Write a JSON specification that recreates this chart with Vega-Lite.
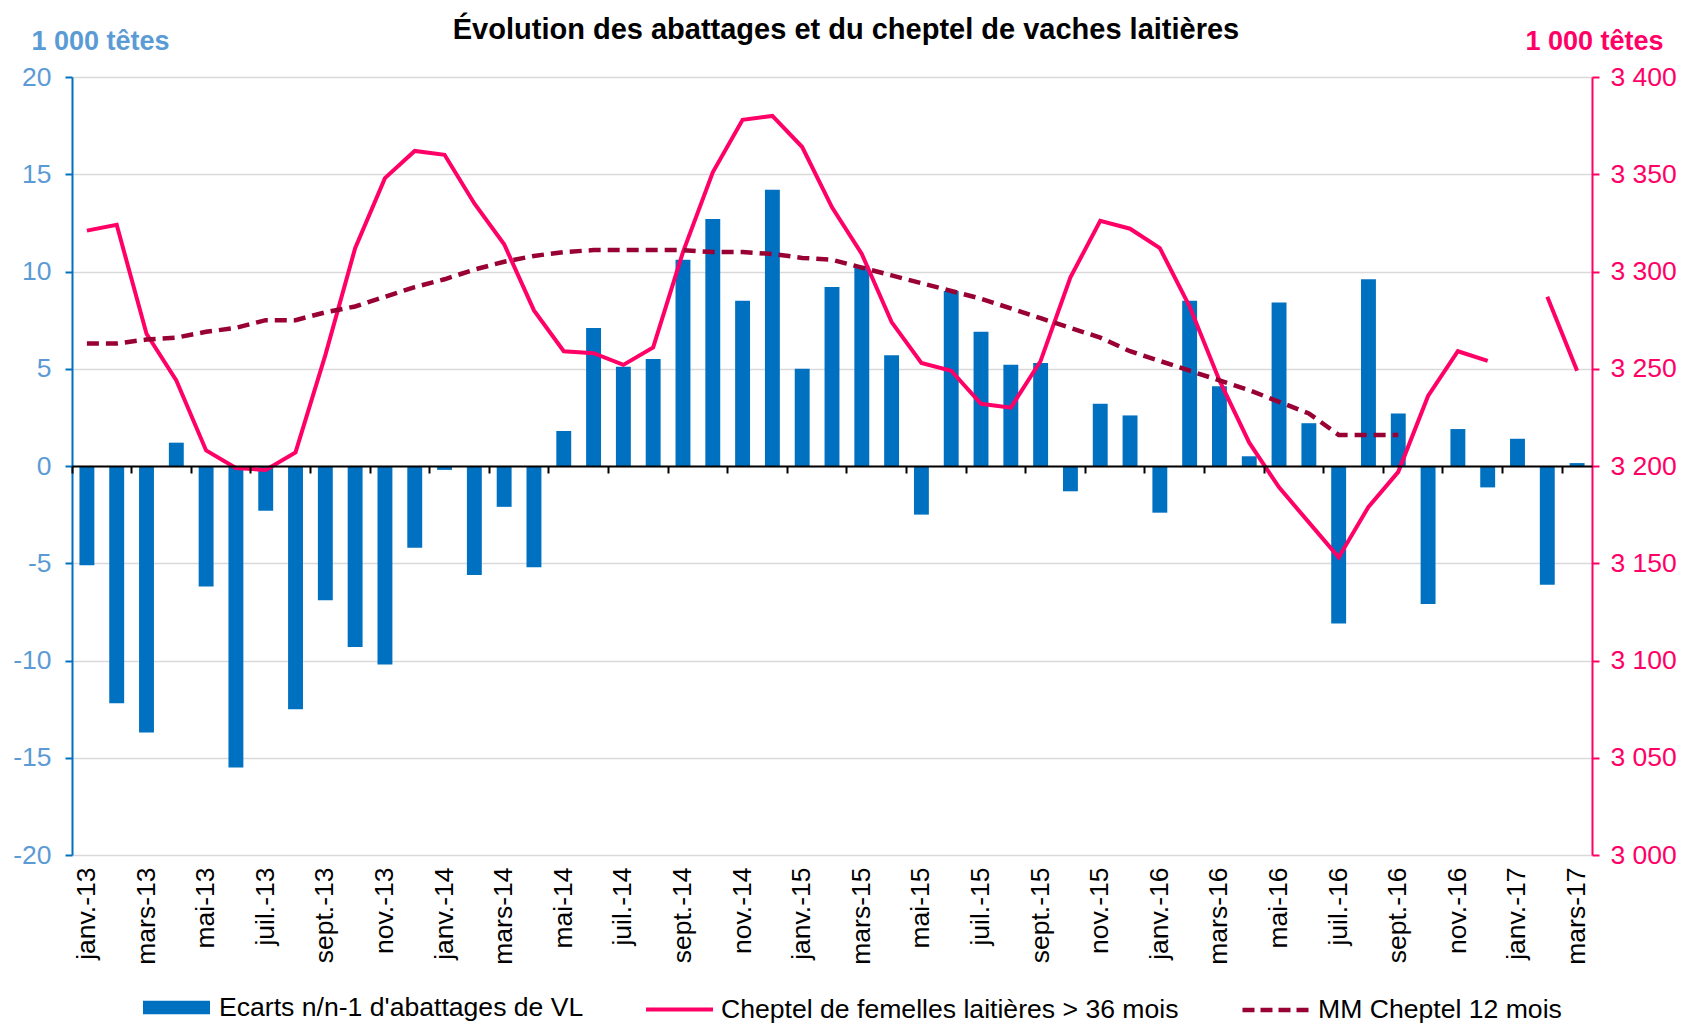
{
  "$schema": "https://vega.github.io/schema/vega-lite/v6.json",
  "autosize": {"type": "none"},
  "padding": {"left": 72, "top": 77, "right": 91, "bottom": 169},
  "width": 1520,
  "height": 778,
  "background": "white",
  "config": {
    "font": "Liberation Sans",
    "view": {"stroke": null},
    "axis": {"labelFont": "Liberation Sans", "titleFont": "Liberation Sans"},
    "legend": {"labelFont": "Liberation Sans", "labelLimit": 0}
  },
  "title": {
    "text": "Évolution des abattages et du cheptel de vaches laitières",
    "font": "Liberation Sans",
    "fontSize": 29,
    "fontWeight": "bold",
    "color": "#000000",
    "anchor": "middle",
    "frame": "group",
    "baseline": "alphabetic",
    "offset": -41,
    "dx": 14
  },
  "data": {
    "values": [
      {"m": "janv.-13", "ecart": -5.1, "cheptel": 3321, "mm": 3263},
      {"m": "févr.-13", "ecart": -12.2, "cheptel": 3324, "mm": 3263},
      {"m": "mars-13", "ecart": -13.7, "cheptel": 3268, "mm": 3265},
      {"m": "avr.-13", "ecart": 1.2, "cheptel": 3244, "mm": 3266},
      {"m": "mai-13", "ecart": -6.2, "cheptel": 3208, "mm": 3269},
      {"m": "juin-13", "ecart": -15.5, "cheptel": 3199, "mm": 3271},
      {"m": "juil.-13", "ecart": -2.3, "cheptel": 3198, "mm": 3275},
      {"m": "août-13", "ecart": -12.5, "cheptel": 3207, "mm": 3275},
      {"m": "sept.-13", "ecart": -6.9, "cheptel": 3257, "mm": 3279},
      {"m": "oct.-13", "ecart": -9.3, "cheptel": 3312, "mm": 3282},
      {"m": "nov.-13", "ecart": -10.2, "cheptel": 3348, "mm": 3287},
      {"m": "déc.-13", "ecart": -4.2, "cheptel": 3362, "mm": 3292},
      {"m": "janv.-14", "ecart": -0.2, "cheptel": 3360, "mm": 3296},
      {"m": "févr.-14", "ecart": -5.6, "cheptel": 3335, "mm": 3301},
      {"m": "mars-14", "ecart": -2.1, "cheptel": 3314, "mm": 3305},
      {"m": "avr.-14", "ecart": -5.2, "cheptel": 3280, "mm": 3308},
      {"m": "mai-14", "ecart": 1.8, "cheptel": 3259, "mm": 3310},
      {"m": "juin-14", "ecart": 7.1, "cheptel": 3258, "mm": 3311},
      {"m": "juil.-14", "ecart": 5.1, "cheptel": 3252, "mm": 3311},
      {"m": "août-14", "ecart": 5.5, "cheptel": 3261, "mm": 3311},
      {"m": "sept.-14", "ecart": 10.6, "cheptel": 3310, "mm": 3311},
      {"m": "oct.-14", "ecart": 12.7, "cheptel": 3351, "mm": 3310},
      {"m": "nov.-14", "ecart": 8.5, "cheptel": 3378, "mm": 3310},
      {"m": "déc.-14", "ecart": 14.2, "cheptel": 3380, "mm": 3309},
      {"m": "janv.-15", "ecart": 5.0, "cheptel": 3364, "mm": 3307},
      {"m": "févr.-15", "ecart": 9.2, "cheptel": 3333, "mm": 3306},
      {"m": "mars-15", "ecart": 10.3, "cheptel": 3309, "mm": 3302},
      {"m": "avr.-15", "ecart": 5.7, "cheptel": 3274, "mm": 3298},
      {"m": "mai-15", "ecart": -2.5, "cheptel": 3253, "mm": 3294},
      {"m": "juin-15", "ecart": 9.0, "cheptel": 3249, "mm": 3290},
      {"m": "juil.-15", "ecart": 6.9, "cheptel": 3232, "mm": 3286},
      {"m": "août-15", "ecart": 5.2, "cheptel": 3230, "mm": 3281},
      {"m": "sept.-15", "ecart": 5.3, "cheptel": 3254, "mm": 3276},
      {"m": "oct.-15", "ecart": -1.3, "cheptel": 3297, "mm": 3271},
      {"m": "nov.-15", "ecart": 3.2, "cheptel": 3326, "mm": 3266},
      {"m": "déc.-15", "ecart": 2.6, "cheptel": 3322, "mm": 3259},
      {"m": "janv.-16", "ecart": -2.4, "cheptel": 3312, "mm": 3254},
      {"m": "févr.-16", "ecart": 8.5, "cheptel": 3282, "mm": 3249},
      {"m": "mars-16", "ecart": 4.1, "cheptel": 3244, "mm": 3244},
      {"m": "avr.-16", "ecart": 0.5, "cheptel": 3212, "mm": 3239},
      {"m": "mai-16", "ecart": 8.4, "cheptel": 3189, "mm": 3233},
      {"m": "juin-16", "ecart": 2.2, "cheptel": 3171, "mm": 3227},
      {"m": "juil.-16", "ecart": -8.1, "cheptel": 3153, "mm": 3216},
      {"m": "août-16", "ecart": 9.6, "cheptel": 3179, "mm": 3216},
      {"m": "sept.-16", "ecart": 2.7, "cheptel": 3197, "mm": 3216},
      {"m": "oct.-16", "ecart": -7.1, "cheptel": 3236, "mm": null},
      {"m": "nov.-16", "ecart": 1.9, "cheptel": 3259, "mm": null},
      {"m": "déc.-16", "ecart": -1.1, "cheptel": 3254, "mm": null},
      {"m": "janv.-17", "ecart": 1.4, "cheptel": null, "mm": null},
      {"m": "févr.-17", "ecart": -6.1, "cheptel": 3287, "mm": null},
      {"m": "mars-17", "ecart": 0.15, "cheptel": 3249, "mm": null}
    ]
  },
  "layer": [
    {
      "mark": {"type": "bar", "width": {"band": 0.5}},
      "encoding": {
        "x": {
          "field": "m", "type": "ordinal", "sort": null,
          "scale": {"paddingInner": 0, "paddingOuter": 0},
          "axis": {
            "orient": "bottom", "title": null, "domain": false, "ticks": false, "grid": false,
            "labelAngle": -90, "labelAlign": "right", "labelBaseline": "middle",
            "labelFontSize": 26.5, "labelColor": "#000000", "labelPadding": 12, "labelOverlap": false,
            "values": ["janv.-13","mars-13","mai-13","juil.-13","sept.-13","nov.-13","janv.-14","mars-14","mai-14","juil.-14","sept.-14","nov.-14","janv.-15","mars-15","mai-15","juil.-15","sept.-15","nov.-15","janv.-16","mars-16","mai-16","juil.-16","sept.-16","nov.-16","janv.-17","mars-17"]
          }
        },
        "y": {
          "field": "ecart", "type": "quantitative",
          "scale": {"domain": [-20, 20], "nice": false, "zero": false},
          "axis": {
            "orient": "left", "values": [-20, -15, -10, -5, 0, 5, 10, 15, 20],
            "grid": true, "gridColor": "#D9D9D9", "gridWidth": 1.5,
            "domainColor": "#0070C0", "domainWidth": 2,
            "tickColor": "#0070C0", "tickSize": 7, "tickWidth": 2,
            "labelColor": "#5B9BD5", "labelFontSize": 26.5, "labelPadding": 14,
            "labelExpr": "'' + datum.value",
            "title": "1 000 têtes", "titleColor": "#5B9BD5", "titleFontSize": 27, "titleFontWeight": "bold",
            "titleAngle": 0, "titleAlign": "center", "titleBaseline": "middle", "titleX": 28, "titleY": -36
          }
        },
        "color": {
          "datum": "Ecarts n/n-1 d'abattages de VL",
          "scale": {"range": ["#0070C0"]},
          "legend": {
            "orient": "none", "legendX": 71, "legendY": 897, "title": null, "padding": 0,
            "symbolType": "M-1,-0.2H1V0.2H-1Z", "symbolSize": 4489, "symbolStrokeWidth": 0,
            "labelFontSize": 26.6, "labelColor": "#000000", "labelOffset": 9, "labelLimit": 0
          }
        }
      }
    },
    {
      "layer": [
        {
          "mark": {"type": "line", "strokeWidth": 4, "invalid": "break-paths-show-domains"},
          "encoding": {
            "x": {
              "field": "m", "type": "ordinal", "sort": null,
              "axis": {
                "orient": "bottom", "offset": -389, "labels": false, "title": null, "grid": false,
                "domainColor": "#000000", "domainWidth": 2, "ticks": true, "tickColor": "#000000",
                "tickSize": 7, "tickWidth": 2, "bandPosition": 0, "zindex": 1,
                "values": ["janv.-13","mars-13","mai-13","juil.-13","sept.-13","nov.-13","janv.-14","mars-14","mai-14","juil.-14","sept.-14","nov.-14","janv.-15","mars-15","mai-15","juil.-15","sept.-15","nov.-15","janv.-16","mars-16","mai-16","juil.-16","sept.-16","nov.-16","janv.-17","mars-17"]
              }
            },
            "y": {
              "field": "cheptel", "type": "quantitative",
              "scale": {"domain": [3000, 3400], "nice": false, "zero": false},
              "axis": {
                "orient": "right", "values": [3000, 3050, 3100, 3150, 3200, 3250, 3300, 3350, 3400],
                "grid": false, "domainColor": "#FF0066", "domainWidth": 2,
                "tickColor": "#FF0066", "tickSize": 7, "tickWidth": 2,
                "labelColor": "#FF0066", "labelFontSize": 26.5, "labelPadding": 11,
                "labelExpr": "replace(format(datum.value, ','), ',', ' ')",
                "title": "1 000 têtes", "titleColor": "#FF0066", "titleFontSize": 27, "titleFontWeight": "bold",
                "titleAngle": 0, "titleAlign": "center", "titleBaseline": "middle", "titleX": 2, "titleY": -36
              }
            },
            "color": {
              "datum": "Cheptel de femelles laitières > 36 mois",
              "scale": {"range": ["#FF0066"]},
              "legend": {
                "orient": "none", "legendX": 572, "legendY": 897, "title": null, "padding": 0,
                "symbolType": "stroke", "symbolSize": 4489, "symbolStrokeWidth": 4,
                "labelFontSize": 26.6, "labelColor": "#000000", "labelOffset": 6, "labelLimit": 0
              }
            }
          }
        },
        {
          "mark": {"type": "line", "strokeWidth": 4.5, "strokeDash": [12, 7], "invalid": "break-paths-show-domains"},
          "encoding": {
            "x": {"field": "m", "type": "ordinal", "sort": null},
            "y": {"field": "mm", "type": "quantitative", "scale": {"domain": [3000, 3400], "nice": false, "zero": false}},
            "color": {
              "datum": "MM Cheptel 12 mois",
              "scale": {"range": ["#990033"]},
              "legend": {
                "orient": "none", "legendX": 1168, "legendY": 897, "title": null, "padding": 0,
                "symbolType": "stroke", "symbolSize": 4489, "symbolStrokeWidth": 4.5, "symbolDash": [12, 6],
                "labelFontSize": 26.6, "labelColor": "#000000", "labelOffset": 6, "labelLimit": 0
              }
            }
          }
        }
      ],
      "resolve": {"scale": {"color": "independent"}}
    }
  ],
  "resolve": {"scale": {"y": "independent", "color": "independent"}, "axis": {"x": "independent"}}
}
